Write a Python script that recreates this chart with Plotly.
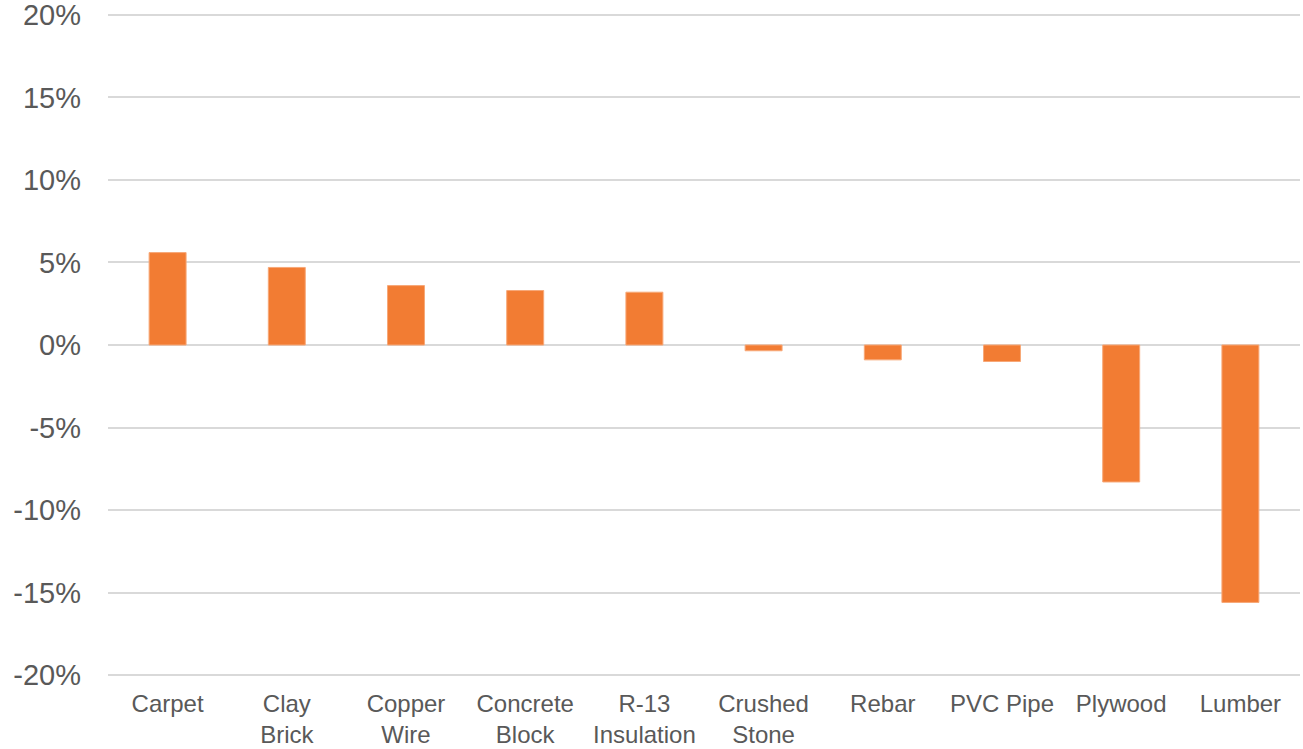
import plotly.graph_objects as go

categories = ["Carpet", "Clay<br>Brick", "Copper<br>Wire", "Concrete<br>Block", "R-13<br>Insulation",
              "Crushed<br>Stone", "Rebar", "PVC Pipe", "Plywood", "Lumber"]
values = [5.6, 4.7, 3.6, 3.3, 3.2, -0.35, -0.9, -1.0, -8.3, -15.6]
y_ticks = [-20, -15, -10, -5, 0, 5, 10, 15, 20]
y_tick_labels = [f"{v}%" for v in y_ticks]

fig = go.Figure(go.Bar(
    x=categories, y=values,
    marker=dict(color="#F27C33", line=dict(color="#F7A878", width=1)),
))

fig.update_layout(
    width=1303, height=749,
    margin=dict(l=108, r=3, t=10, b=69),
    paper_bgcolor="white", plot_bgcolor="white",
    bargap=0.69,
    showlegend=False,
    font=dict(family="Liberation Sans, Arial, sans-serif", color="#595959"),
)
fig.update_xaxes(
    showgrid=False, showline=False, zeroline=False,
    tickfont=dict(size=24, color="#595959"),
    ticklabelstandoff=7, automargin=False, ticklabeloverflow="allow",
)
fig.update_yaxes(
    range=[-20.3, 20.3], tickvals=y_ticks, ticktext=y_tick_labels,
    showgrid=True, gridcolor="#D9D9D9", gridwidth=2,
    zeroline=True, zerolinecolor="#D9D9D9", zerolinewidth=2,
    showline=False,
    tickfont=dict(size=29, color="#595959"),
    ticklabelstandoff=26, automargin=False, ticklabeloverflow="allow",
)

fig.write_html(
    "out.html",
    config={"displayModeBar": False},
    post_script="document.body.style.margin='0';document.body.style.padding='0';",
)
